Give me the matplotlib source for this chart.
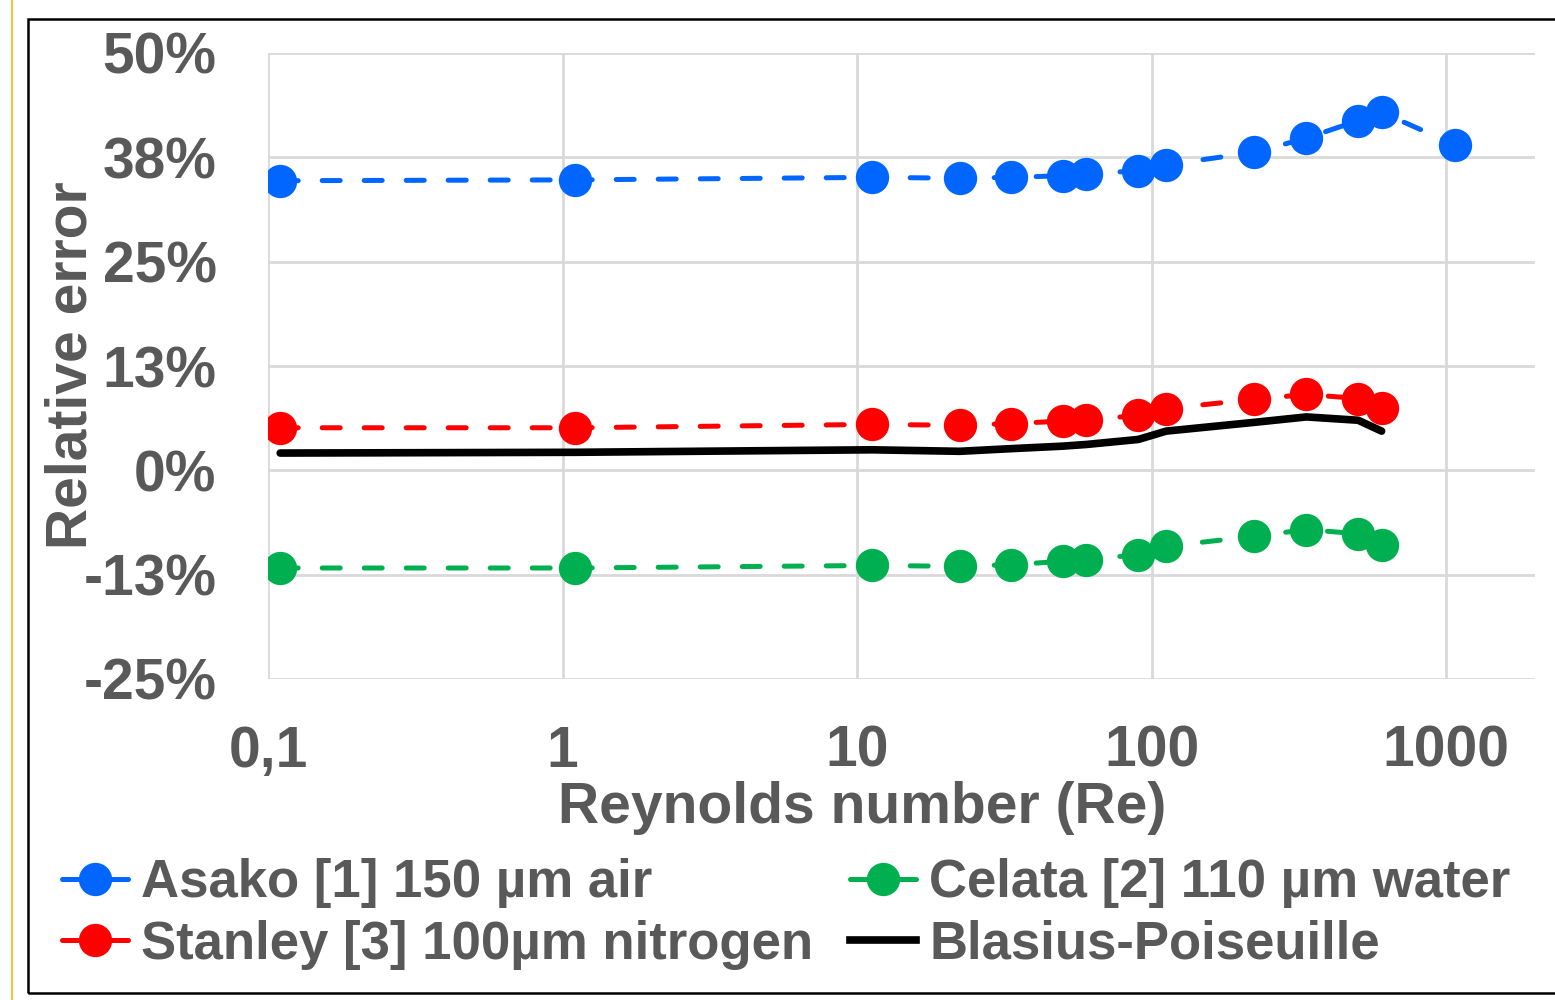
import numpy as np
import matplotlib
matplotlib.use("Agg")
import matplotlib.pyplot as plt
from matplotlib.patches import Rectangle
from matplotlib.lines import Line2D

plt.rcParams['font.family'] = ['Liberation Sans', 'DejaVu Sans']
plt.rcParams['font.weight'] = 'bold'

# Reynolds numbers (shared by the series)
re_vals = [0.11, 1.1, 11.2, 22.3, 33.4, 50, 60, 90, 112, 223, 335, 502, 603]
re_asako = re_vals + [1070]

# relative error in %
err_asako = [34.7, 34.8, 35.1, 35.0, 35.1, 35.3, 35.5, 35.9, 36.6, 38.1, 39.8, 41.9, 42.9, 39.0]
err_stanley = [5.1, 5.1, 5.5, 5.4, 5.6, 5.9, 6.0, 6.6, 7.4, 8.5, 9.1, 8.6, 7.5]
err_celata = [-11.7, -11.7, -11.4, -11.5, -11.3, -10.9, -10.7, -10.1, -9.1, -7.9, -7.1, -7.6, -8.9]
err_blasius = [2.07, 2.16, 2.46, 2.28, 2.6, 2.9, 3.1, 3.7, 4.7, 5.75, 6.4, 6.0, 4.7]

x_ticks = [0.1, 1, 10, 100, 1000]
x_labels = ["0,1", "1", "10", "100", "1000"]
y_ticks = [50, 37.5, 25, 12.5, 0, -12.5, -25]
y_labels = ["50%", "38%", "25%", "13%", "0%", "-13%", "-25%"]

blue = '#0066FF'
red = '#FF0000'
green = '#00B050'
grey = '#595959'

fig = plt.figure(figsize=(15.55, 10), dpi=100)
ax = fig.add_axes([268/1555, 1-679/1000, (1535-268)/1555, (679-53)/1000])

def dashed(x, y, c):
    ax.plot(x, y, color=c, lw=3.6, dashes=(3.6, 4.8), dash_capstyle='round',
            marker='o', markersize=24, markeredgewidth=0, zorder=3)

dashed(re_asako, err_asako, blue)
dashed(re_vals, err_stanley, red)
dashed(re_vals, err_celata, green)
ax.plot(re_vals, err_blasius, color='black', lw=5.5, solid_capstyle='round', zorder=2)

ax.set_xscale('log')
ax.set_xlim(0.1, 2000)
ax.set_ylim(-25, 50)
ax.set_xticks(x_ticks)
ax.set_xticklabels(x_labels)
ax.xaxis.set_minor_locator(matplotlib.ticker.NullLocator())
ax.set_yticks(y_ticks)
ax.set_yticklabels(y_labels)
ax.tick_params(length=0, labelsize=41, labelcolor=grey)
ax.tick_params(axis='y', pad=37)
ax.tick_params(axis='x', pad=33)
for s in ax.spines.values():
    s.set_visible(False)
ax.grid(True, color='#D9D9D9', lw=2)
ax.set_axisbelow(True)

fig.text(862/1555, 1-808/1000, "Reynolds number (Re)", fontsize=41, color=grey,
         ha='center', va='center')
fig.text(72/1555, 1-365/1000, "Relative error", fontsize=41, color=grey,
         ha='center', va='center', rotation=90)

mk = dict(marker='o', markersize=24, markeredgewidth=0, lw=3.6, solid_capstyle='round')
handles = [
    Line2D([], [], color=blue, **mk),
    Line2D([], [], color=red, **mk),
    Line2D([], [], color=green, **mk),
    Line2D([], [], color='black', lw=5.5),
]
labels = ["Asako [1] 150 µm air", "Stanley [3] 100µm nitrogen",
          "Celata [2] 110 µm water", "Blasius-Poiseuille"]
fig.legend(handles, labels, ncol=2, loc='upper left', bbox_to_anchor=(62/1555, 1-858/1000),
           frameon=False, fontsize=38, labelcolor=grey, handlelength=1.25,
           handletextpad=0.25, columnspacing=0.7, labelspacing=0.22, borderpad=0,
           borderaxespad=0)

# outer frame and the yellow mark at the left edge
fig.patches.append(Rectangle((28/1555, 1-993/1000), 1.0, (993-19)/1000, transform=fig.transFigure,
                             fill=False, edgecolor='black', lw=1.8))
fig.add_artist(Line2D([12/1555, 12/1555], [0, 1], transform=fig.transFigure,
                      color='#F5C242', lw=1.5))

fig.savefig("out.png", dpi=100, facecolor='white')
